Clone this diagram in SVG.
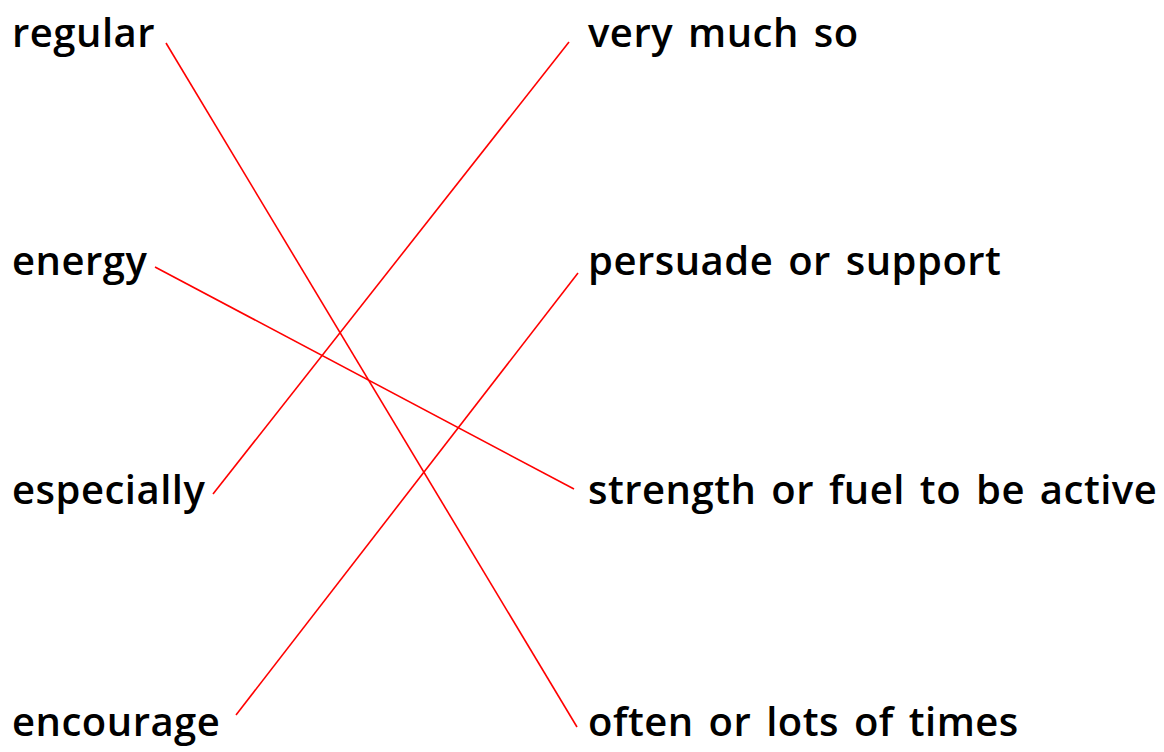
<svg xmlns="http://www.w3.org/2000/svg" width="1164" height="752" viewBox="0 0 1164 752">
<style>
text{font-family:"Open Sans","Noto Sans",sans-serif;font-weight:600;font-size:40px;letter-spacing:0.5px;word-spacing:4px;fill:#000}
.c line{stroke:#ff0000;stroke-width:1.6;fill:none}
</style>
<rect width="1164" height="752" fill="#fff"/>
<g id="left">
<g id="n-regular"><text x="12" y="47">regular</text></g>
<g id="n-energy"><text x="12" y="275">energy</text></g>
<g id="n-especially"><text x="12" y="504">especially</text></g>
<g id="n-encourage"><text x="12" y="736">encourage</text></g>
</g>
<g id="right">
<g id="n-verymuch"><text x="588" y="47">very much so</text></g>
<g id="n-persuade"><text x="588" y="275">persuade or support</text></g>
<g id="n-strength"><text x="588" y="504">strength or fuel to be active</text></g>
<g id="n-often"><text x="588" y="736">often or lots of times</text></g>
</g>
<g id="connectors" class="c">
<line x1="166" y1="43" x2="577" y2="727"/>
<line x1="569" y1="42" x2="213" y2="494"/>
<line x1="155" y1="267" x2="574" y2="489"/>
<line x1="578" y1="273" x2="236" y2="715"/>
</g>
</svg>
